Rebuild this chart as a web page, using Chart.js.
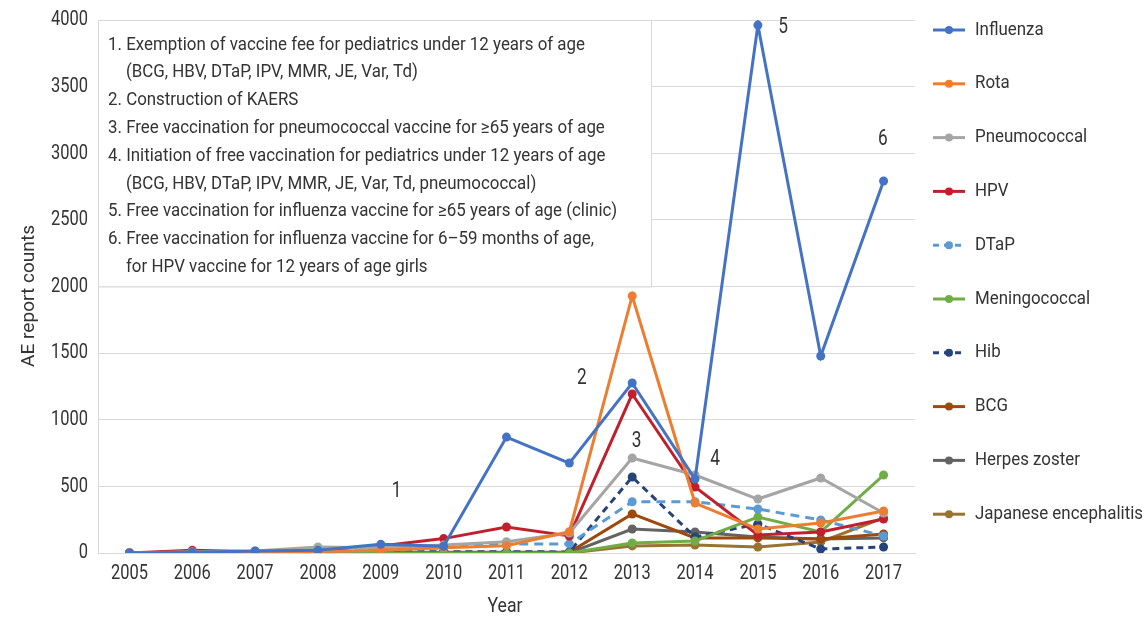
<!DOCTYPE html>
<html>
<head>
<meta charset="utf-8">
<script src="https://cdn.jsdelivr.net/npm/chart.js@4.4.1/dist/chart.umd.min.js"></script>
<style>
  html, body { margin: 0; padding: 0; background: #fff; }
  #wrap { width: 1147px; height: 617px; position: relative; }
</style>
</head>
<body>
<div id="wrap"><canvas id="c" width="1147" height="617"></canvas></div>
<script>
const years = ['2005','2006','2007','2008','2009','2010','2011','2012','2013','2014','2015','2016','2017'];
const yTicks = [0, 500, 1000, 1500, 2000, 2500, 3000, 3500, 4000];
const xTitle = 'Year';
const yTitle = 'AE report counts';

const influenza     = [0, 5, 15, 20, 65, 50, 870, 675, 1276, 555, 3962, 1478, 2792];
const rota          = [0, 5, 5, 10, 20, 40, 55, 160, 1929, 375, 180, 225, 315];
const pneumococcal  = [0, 10, 15, 45, 40, 60, 85, 150, 713, 585, 405, 563, 300];
const hpv           = [0, 20, 10, 25, 52, 108, 195, 128, 1193, 495, 135, 158, 255];
const dtap          = [0, 5, 5, 10, 20, 40, 68, 68, 385, 385, 330, 248, 128];
const meningococcal = [0, 0, 0, 0, 0, 0, 0, 0, 75, 90, 270, 158, 585];
const hib           = [0, 3, 5, 5, 8, 10, 10, 8, 570, 120, 218, 30, 45];
const bcg           = [0, 3, 2, 2, 3, 5, 5, 5, 293, 113, 113, 105, 143];
const herpesZoster  = [0, 0, 0, 0, 0, 0, 0, 0, 180, 158, 120, 105, 113];
const je            = [0, 0, 0, 0, 0, 0, 0, 0, 53, 60, 45, 83, 263];

const seriesNames = ['Influenza','Rota','Pneumococcal','HPV','DTaP','Meningococcal','Hib','BCG','Herpes zoster','Japanese encephalitis'];
const seriesData  = [influenza, rota, pneumococcal, hpv, dtap, meningococcal, hib, bcg, herpesZoster, je];
const seriesColors = ['#4472C4','#ED7D31','#A5A5A5','#C0202D','#5B9BD5','#70AD47','#264478','#9E480E','#636363','#997330'];
const seriesDash = [[],[],[],[],[9,6],[],[7,5],[],[],[]];

const noteLines = [
  '1. Exemption of vaccine fee for pediatrics under 12 years of age',
  '    (BCG, HBV, DTaP, IPV, MMR, JE, Var, Td)',
  '2. Construction of KAERS',
  '3. Free vaccination for pneumococcal vaccine for \u226565 years of age',
  '4. Initiation of free vaccination for pediatrics under 12 years of age',
  '    (BCG, HBV, DTaP, IPV, MMR, JE, Var, Td, pneumococcal)',
  '5. Free vaccination for influenza vaccine for \u226565 years of age (clinic)',
  '6. Free vaccination for influenza vaccine for 6\u201359 months of age,',
  '    for HPV vaccine for 12 years of age girls'
];
// event markers: label, x position (category index), y value
const markerLabels = ['1','2','3','4','5','6'];
const markerX = [4.25, 7.2, 8.07, 9.32, 10.4, 11.99];
const markerY = [458, 1313, 840, 698, 3940, 3100];

const FONT = 'Roboto, "Liberation Sans", sans-serif';
const TEXT = '#333333';

function measure(ctx, text, size) {
  ctx.save();
  ctx.font = size + 'px ' + FONT;
  const w = ctx.measureText(text).width;
  ctx.restore();
  return w;
}
function drawCond(ctx, text, x, y, size, sx, align, rot) {
  ctx.save();
  ctx.font = size + 'px ' + FONT;
  ctx.fillStyle = TEXT;
  ctx.textAlign = align || 'left';
  ctx.textBaseline = 'middle';
  ctx.translate(x, y);
  if (rot) ctx.rotate(rot);
  ctx.scale(sx, 1);
  ctx.fillText(text, 0, 0);
  ctx.restore();
}

const datasets = seriesNames.map((n, i) => ({
  label: n,
  data: seriesData[i],
  borderColor: seriesColors[i],
  backgroundColor: seriesColors[i],
  borderWidth: 3,
  borderDash: seriesDash[i],
  pointRadius: 4.5,
  pointHoverRadius: 4.5,
  pointBorderWidth: 0,
  tension: 0,
  fill: false
}));

const overlayPlugin = {
  id: 'overlay',
  beforeDatasetsDraw(chart) {
    const ctx = chart.ctx;
    const y = chart.scales.y;
    const left = chart.chartArea.left;
    const right = 651;
    const top = y.getPixelForValue(4000);
    const bottom = y.getPixelForValue(2000);
    ctx.save();
    ctx.fillStyle = '#fff';
    ctx.fillRect(left, top, right - left, bottom - top);
    ctx.strokeStyle = '#d9d9d9';
    ctx.lineWidth = 1;
    ctx.strokeRect(left + 0.5, top + 0.5, right - left, bottom - top);
    ctx.restore();
    const bs = 477 / measure(ctx, noteLines[0], 18.5);
    noteLines.forEach((t, i) => {
      const trimmed = t.replace(/^\s+/, '');
      const indent = t.length - trimmed.length > 0 ? 126 : 108;
      drawCond(ctx, trimmed, indent, 45 + i * 27.8, 18.5, bs, 'left');
    });
  },
  afterDraw(chart) {
    const ctx = chart.ctx;
    const x = chart.scales.x, y = chart.scales.y;
    const ts = 37 / measure(ctx, '2005', 21);
    // tick labels
    years.forEach((yr, i) => drawCond(ctx, yr, x.getPixelForValue(i), 574, 21, ts, 'center'));
    yTicks.forEach(v => drawCond(ctx, String(v), 88, y.getPixelForValue(v), 21, ts, 'right'));
    // axis titles
    drawCond(ctx, xTitle, 505, 607, 21, 35 / measure(ctx, xTitle, 21), 'center');
    drawCond(ctx, yTitle, 29, 296, 19, 142 / measure(ctx, yTitle, 19), 'center', -Math.PI / 2);
    // event markers
    markerLabels.forEach((m, i) => {
      drawCond(ctx, m, x.getPixelForValue(markerX[i]), y.getPixelForValue(markerY[i]), 22, ts, 'center');
    });
    // legend
    const ls = 168 / measure(ctx, 'Japanese encephalitis', 18.5);
    seriesNames.forEach((n, i) => {
      const ly = 30 + i * 53.8;
      ctx.save();
      ctx.strokeStyle = seriesColors[i];
      ctx.lineWidth = 3;
      ctx.setLineDash(seriesDash[i].length ? [6, 5] : []);
      ctx.beginPath();
      ctx.moveTo(933, ly);
      ctx.lineTo(965, ly);
      ctx.stroke();
      ctx.setLineDash([]);
      ctx.fillStyle = seriesColors[i];
      ctx.beginPath();
      ctx.arc(949, ly, 4, 0, Math.PI * 2);
      ctx.fill();
      ctx.restore();
      drawCond(ctx, n, 975, ly, 18.5, ls, 'left');
    });
  }
};

new Chart(document.getElementById('c'), {
  type: 'line',
  data: { labels: years, datasets },
  options: {
    responsive: false,
    animation: false,
    devicePixelRatio: 1,
    layout: { padding: { top: 20, right: 232, left: 0, bottom: 0 } },
    plugins: { legend: { display: false }, tooltip: { enabled: false } },
    scales: {
      x: {
        offset: true,
        grid: { display: false, drawTicks: false, offset: true },
        border: { color: '#d9d9d9', width: 1 },
        ticks: { display: false },
        afterFit(s) { s.height = 64; }
      },
      y: {
        min: 0, max: 4000,
        afterBuildTicks(s) { s.ticks = yTicks.map(v => ({ value: v })); },
        grid: { color: '#d9d9d9', drawTicks: false },
        border: { display: true, color: '#d9d9d9' },
        ticks: { display: false },
        afterFit(s) { s.width = 98; }
      }
    }
  },
  plugins: [overlayPlugin]
});
</script>
</body>
</html>
